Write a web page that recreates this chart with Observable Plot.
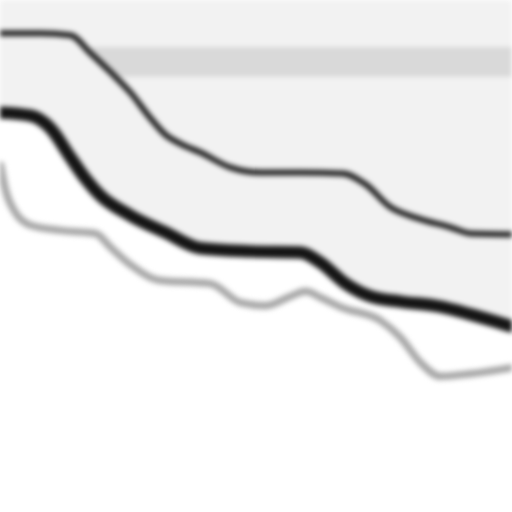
<!DOCTYPE html>
<html>
<head>
<meta charset="utf-8">
<script src="https://cdn.jsdelivr.net/npm/d3@7"></script>
<script src="https://cdn.jsdelivr.net/npm/@observablehq/plot@0.6"></script>
<style>
  html, body { margin: 0; padding: 0; background: #ffffff; overflow: hidden; }
  #wrap { width: 512px; height: 512px; overflow: hidden; }
  #wrap svg { display: block; filter: blur(2.8px); }
</style>
</head>
<body>
<div id="wrap"></div>
<script>
// Upper (thin) series
const upperX = [0, 7.8, 13.7, 17.5, 21.5, 25.4, 29.3, 32.2, 35.2, 39.1, 44.9, 50.8, 58.6, 66.8, 71.3, 76.2, 81.1, 87.9, 91.8, 100];
const upperY = [93.6, 93.6, 93.2, 89.8, 86.0, 82.0, 77.0, 73.8, 72.0, 70.3, 67.4, 66.4, 66.4, 66.2, 64.1, 59.6, 57.6, 55.7, 54.5, 54.3];

// Main (thick) series
const mainX = [0, 5.9, 9.8, 13.7, 16.6, 19.5, 25.4, 32.2, 39.1, 48.8, 58.6, 62.5, 67.4, 72.3, 78.1, 85.9, 91.8, 100];
const mainY = [78.1, 77.5, 75.0, 69.3, 65.2, 61.9, 58.0, 54.7, 51.6, 51.0, 50.8, 48.8, 44.7, 42.2, 41.2, 40.2, 38.7, 36.3];

// Comparison (gray) series
const compX = [0, 1.0, 2.9, 5.9, 11.7, 18.6, 21.5, 25.4, 31.3, 41.0, 46.9, 51.8, 56.6, 59.6, 62.5, 66.8, 74.2, 78.1, 82.0, 85.9, 91.8, 100];
const compY = [67.8, 62.9, 58.6, 56.1, 55.1, 54.5, 51.8, 48.4, 45.3, 44.7, 41.0, 40.4, 42.2, 43.2, 42.0, 40.0, 37.5, 34.2, 29.3, 26.6, 27.1, 28.3];

// Reference band
const bandLow = 85.0;
const bandHigh = 90.8;
const yTop = 100;

const upper = upperX.map((x, i) => ({x, y: upperY[i]}));
const main = mainX.map((x, i) => ({x, y: mainY[i]}));
const comp = compX.map((x, i) => ({x, y: compY[i]}));

const interp = (xs, ys) => d3.scaleLinear().domain(xs).range(ys);
const fUpper = interp(upperX, upperY);
const fMain = interp(mainX, mainY);
const allX = Array.from(new Set([...upperX, ...mainX])).sort((a, b) => a - b);
const between = allX.map(x => ({x, lo: fMain(x), hi: fUpper(x)}));

const curve = "monotone-x";

const chart = Plot.plot({
  width: 512,
  height: 512,
  margin: 0,
  x: {domain: [0, 100], axis: null},
  y: {domain: [0, 100], axis: null},
  marks: [
    Plot.areaY(main, {x: "x", y1: "y", y2: () => yTop, fill: "#f2f2f2", curve}),
    Plot.areaY([{x: 0}, {x: 100}], {x: "x", y1: () => bandLow, y2: () => bandHigh, fill: "#d9d9d9"}),
    Plot.areaY(between, {x: "x", y1: "lo", y2: "hi", fill: "#f2f2f2", curve}),
    Plot.line(comp, {x: "x", y: "y", stroke: "#a8a8a8", strokeWidth: 7.5, curve}),
    Plot.line(main, {x: "x", y: "y", stroke: "#151515", strokeWidth: 12.5, curve}),
    Plot.line(upper, {x: "x", y: "y", stroke: "#222222", strokeWidth: 6, curve})
  ]
});
document.getElementById("wrap").appendChild(chart);
</script>
</body>
</html>
